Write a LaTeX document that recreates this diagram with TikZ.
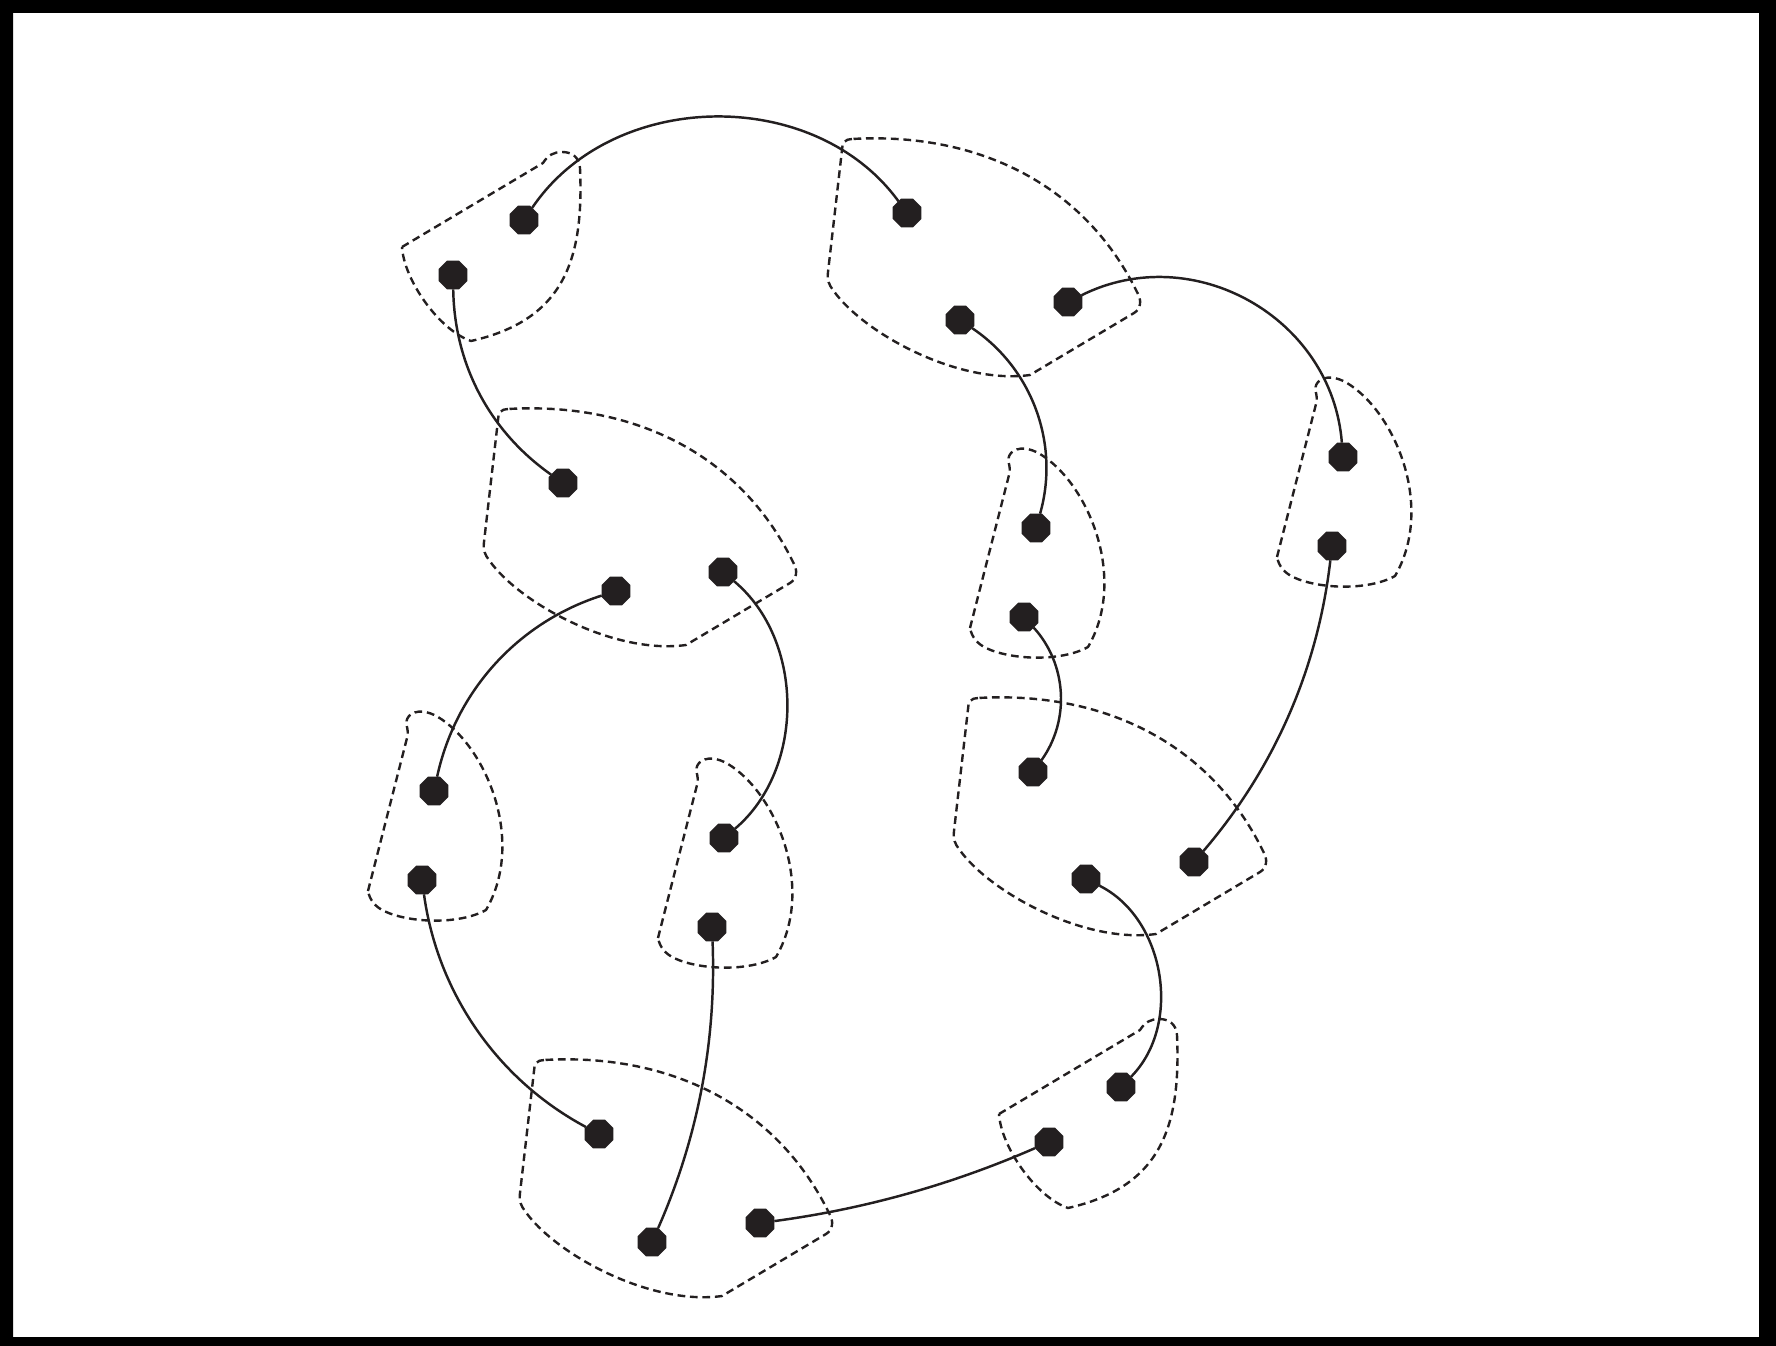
\documentclass[tikz,border=0pt]{standalone}
\usetikzlibrary{shapes.geometric}
\definecolor{ink}{RGB}{35,31,32}
\tikzset{
  pdot/.style={regular polygon, regular polygon sides=8, fill=ink, draw=none,
    minimum size=0.31cm, inner sep=0pt, outer sep=0pt},
  conn/.style={draw=ink, line width=0.7pt},
  hull/.style={draw=ink, line width=0.68pt, dash pattern=on 2.2pt off 1.35pt},
  bigshape/.pic={
    \draw[hull, yscale=-1] (5,-1) .. controls (-2,-1) and (-5,3) .. (-5,10)
      -- (-19,132) .. controls (-20,140) and (-18,145) .. (-14,150)
      .. controls (15,192) and (110,245) .. (183,235)
      -- (287,173) .. controls (294,169) and (295,160) .. (290,152)
      .. controls (235,40) and (125,-8) .. (5,-1) -- cycle;
  },
  smallup/.pic={
    \draw[hull, yscale=-1] (-66,100) -- (-27,-53)
      .. controls (-24,-62) and (-31,-68) .. (-25,-75)
      .. controls (-18,-82) and (-6,-80) .. (4,-74)
      .. controls (52,-45) and (92,50) .. (52,119)
      .. controls (25,134) and (-25,132) .. (-50,120)
      .. controls (-58,116) and (-64,110) .. (-66,100) -- cycle;
  },
  smalltilt/.pic={
    \draw[hull, yscale=-1] (-122,27) -- (19,-57)
      .. controls (24,-65) and (30,-68) .. (38,-68)
      .. controls (48,-68) and (55,-63) .. (56,-52)
      .. controls (60,40) and (40,100) .. (-53,121)
      .. controls (-85,110) and (-120,60) .. (-122,27) -- cycle;
  },
}
\begin{document}
\begin{tikzpicture}[x=0.01cm, y=0.01cm]
\useasboundingbox (0,0) rectangle (1776,-1346);
\fill[black, even odd rule] (0,0) rectangle (1776,-1346) (13,-13) rectangle (1759,-1337);

% dashed group outlines
\pic at (847,-140) {bigshape};
\pic at (503,-410) {bigshape};
\pic at (973,-699) {bigshape};
\pic at (539,-1061) {bigshape};
\pic at (1036,-528) {smallup};
\pic at (1343,-457) {smallup};
\pic at (434,-791) {smallup};
\pic at (724,-838) {smallup};
\pic at (524,-220) {smalltilt};
\pic at (1121,-1087) {smalltilt};

% dots
\node[pdot] (d1) at (524,-220) {};
\node[pdot] (d2) at (453,-275) {};
\node[pdot] (d3) at (907,-213) {};
\node[pdot] (d4) at (960,-320) {};
\node[pdot] (d5) at (1068,-302) {};
\node[pdot] (d6) at (563,-483) {};
\node[pdot] (d7) at (616,-591) {};
\node[pdot] (d8) at (723,-572) {};
\node[pdot] (d9) at (1036,-528) {};
\node[pdot] (d10) at (1024,-617) {};
\node[pdot] (d11) at (1343,-457) {};
\node[pdot] (d12) at (1332,-546) {};
\node[pdot] (d13) at (434,-791) {};
\node[pdot] (d14) at (422,-880) {};
\node[pdot] (d15) at (724,-838) {};
\node[pdot] (d16) at (712,-927) {};
\node[pdot] (d17) at (1033,-772) {};
\node[pdot] (d18) at (1086,-879) {};
\node[pdot] (d19) at (1194,-862) {};
\node[pdot] (d20) at (599,-1134) {};
\node[pdot] (d21) at (652,-1242) {};
\node[pdot] (d22) at (760,-1223) {};
\node[pdot] (d23) at (1121,-1087) {};
\node[pdot] (d24) at (1049,-1142) {};

% connectors
\draw[conn] (d1) to[bend left=55, looseness=1.0] (d3);
\draw[conn] (d2) to[bend right=27, looseness=0.92] (d6);
\draw[conn] (d4) to[bend left=36, looseness=0.94] (d9);
\draw[conn] (d5) to[bend left=56, looseness=1.07] (d11);
\draw[conn] (d7) to[bend right=30, looseness=0.92] (d13);
\draw[conn] (d8) to[bend left=50, looseness=0.95] (d15);
\draw[conn] (d10) to[bend left=39, looseness=0.95] (d17);
\draw[conn] (d12) to[bend left=17, looseness=0.88] (d19);
\draw[conn] (d14) to[bend right=27, looseness=0.9] (d20);
\draw[conn] (d16) to[bend left=13, looseness=0.87] (d21);
\draw[conn] (d18) to[bend left=54, looseness=0.97] (d23);
\draw[conn] (d22) to[bend right=8, looseness=0.86] (d24);
\end{tikzpicture}
\end{document}
